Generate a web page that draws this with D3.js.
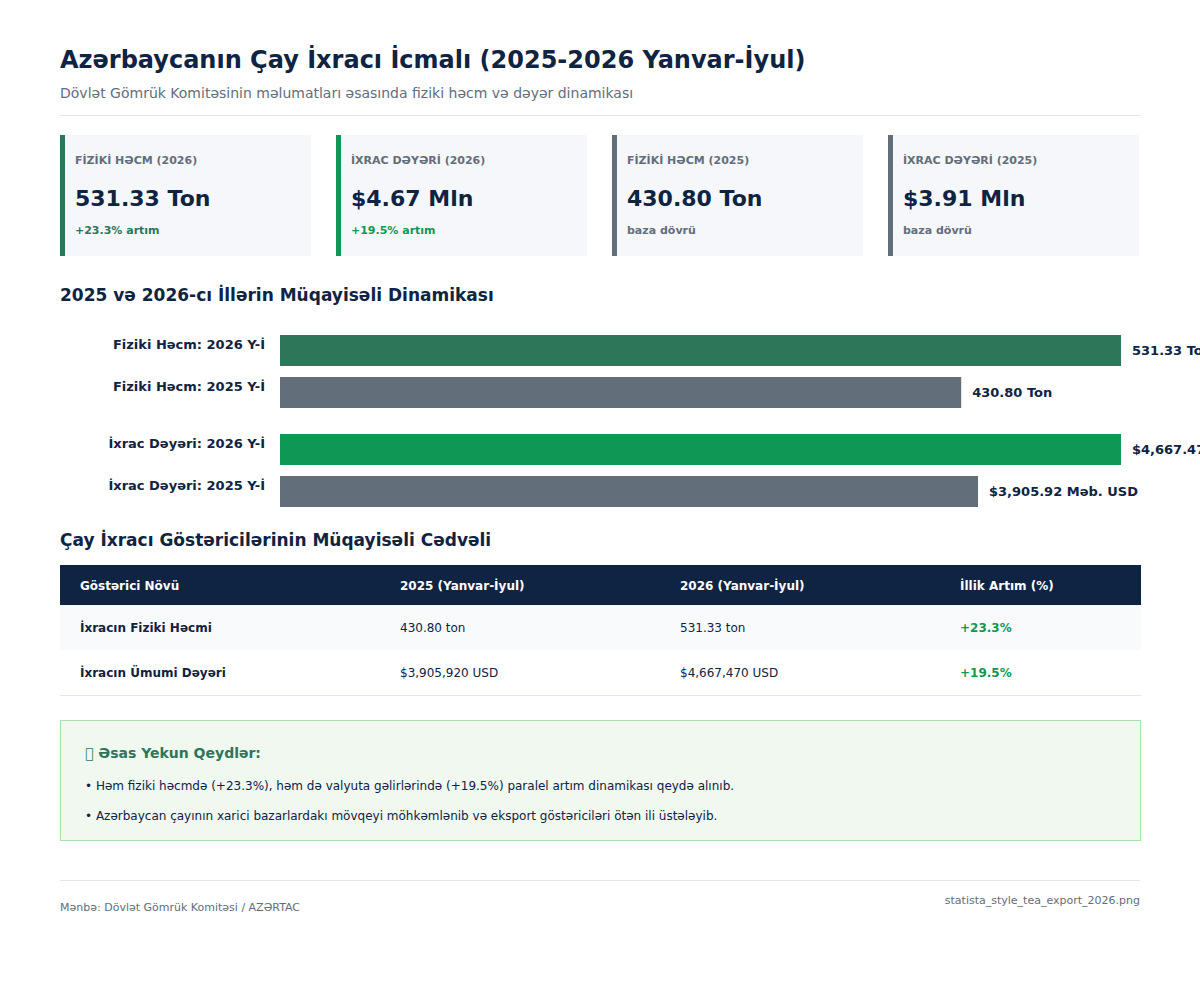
<!DOCTYPE html>
<html lang="az">
<head>
<meta charset="utf-8">
<title>Azərbaycanın Çay İxracı İcmalı</title>
<script src="https://cdn.jsdelivr.net/npm/d3@7/dist/d3.min.js"></script>
<style>
    html, body { margin: 0; padding: 0; background: #fff; overflow: hidden; }
    #chart { position: relative; width: 1200px; height: 1000px; overflow: hidden; font-family: "DejaVu Sans", sans-serif; }
    #chart svg { position: absolute; left: 0; top: 0; display: block; }
    .txt { position: absolute; white-space: nowrap; line-height: normal; }
</style>
</head>
<body>
<div id="chart"></div>
<script>
const NAVY = '#0f2342';
const GREY = '#636e7b';
const TEAL = '#2e7659';
const GREEN = '#0f9855';
const RULE = '#e2e6ea';

// cards
const cardLabels = ['FİZİKİ HƏCM (2026)', 'İXRAC DƏYƏRİ (2026)', 'FİZİKİ HƏCM (2025)', 'İXRAC DƏYƏRİ (2025)'];
const cardValues = ['531.33 Ton', '$4.67 Mln', '430.80 Ton', '$3.91 Mln'];
const cardNotes = ['+23.3% artım', '+19.5% artım', 'baza dövrü', 'baza dövrü'];
const cardColors = [TEAL, GREEN, GREY, GREY];

// bars, lengths are the share of the full track
const barGroups = ['Fiziki Həcm', 'İxrac Dəyəri'];
const barYears = ['2026', '2025'];
const barShares = [[100, 81], [100, 83]];
const barValueLabels = [['531.33 Ton', '430.80 Ton'], ['$4,667.47 Məb. USD', '$3,905.92 Məb. USD']];
const barColors = [[TEAL, GREY], [GREEN, GREY]];

// table
const tableHeader = ['Göstərici Növü', '2025 (Yanvar-İyul)', '2026 (Yanvar-İyul)', 'İllik Artım (%)'];
const tableRows = [
    ['İxracın Fiziki Həcmi', '430.80 ton', '531.33 ton', '+23.3%'],
    ['İxracın Ümumi Dəyəri', '$3,905,920 USD', '$4,667,470 USD', '+19.5%']
];

// notes, the heading icon shows as an empty box in the reference
const noteTitle = '\uE000 Əsas Yekun Qeydlər:';
const noteLines = [
    '• Həm fiziki həcmdə (+23.3%), həm də valyuta gəlirlərində (+19.5%) paralel artım dinamikası qeydə alınıb.',
    '• Azərbaycan çayının xarici bazarlardakı mövqeyi möhkəmlənib və eksport göstəriciləri ötən ili üstələyib.'
];

const chart = d3.select('#chart');
const svg = chart.append('svg')
    .attr('width', 1200)
    .attr('height', 1000);

// y is the baseline
function label(x, y, text, size, color, weight = 'normal', anchor = 'start') {
    const el = chart.append('div')
        .attr('class', 'txt')
        .style('top', `${y - Math.round(size * 0.928)}px`)
        .style('font-size', `${size}px`)
        .style('font-weight', weight)
        .style('color', color)
        .text(text);
    if (anchor === 'end') {
        el.style('right', `${1200 - x}px`);
    } else {
        el.style('left', `${x}px`);
    }
    return el;
}

function hr(y, width = 1080) {
    svg.append('rect').attr('x', 60).attr('y', y).attr('width', width).attr('height', 1).attr('fill', RULE);
}

// header
label(60, 68, 'Azərbaycanın Çay İxracı İcmalı (2025-2026 Yanvar-İyul)', 24, NAVY, 'bold');
label(60, 98, 'Dövlət Gömrük Komitəsinin məlumatları əsasında fiziki həcm və dəyər dinamikası', 14, GREY);
hr(115);

// kpi cards
const cardX = i => 60 + i * 276;
const cards = svg.selectAll('g.card').data(cardLabels).enter().append('g')
    .attr('class', 'card')
    .attr('transform', (d, i) => `translate(${cardX(i)},135)`);
cards.append('rect').attr('width', 251).attr('height', 121).attr('fill', '#f5f7fb');
cards.append('rect').attr('width', 5).attr('height', 121).attr('fill', (d, i) => cardColors[i]);
cardLabels.forEach((d, i) => {
    label(cardX(i) + 15, 164, d, 11, GREY, 'bold');
    label(cardX(i) + 15, 206, cardValues[i], 22, NAVY, 'bold');
    label(cardX(i) + 15, 234, cardNotes[i], 11, i < 2 ? cardColors[i] : GREY, 'bold');
});

// bars
label(60, 301, '2025 və 2026-cı İllərin Müqayisəli Dinamikası', 17, NAVY, 'bold');
const groupY = d3.scaleBand().domain(barGroups).range([335, 507]).paddingInner(26 / 99);
const barY = d3.scaleBand().domain(barYears).range([0, groupY.bandwidth()]).paddingInner(11 / 42);
const barX = d3.scaleLinear().domain([0, 100]).range([280, 1121]);

barGroups.forEach((group, gi) => {
    barYears.forEach((year, yi) => {
        const y = groupY(group) + barY(year);
        svg.append('rect')
            .attr('x', barX(0))
            .attr('y', y)
            .attr('width', barX(barShares[gi][yi]) - barX(0))
            .attr('height', barY.bandwidth())
            .attr('fill', barColors[gi][yi]);
        label(265, y + 14, `${group}: ${year} Y-İ`, 13, NAVY, 'bold', 'end');
        label(barX(barShares[gi][yi]) + 11, y + 20, barValueLabels[gi][yi], 13, NAVY, 'bold');
    });
});

// table
label(60, 546, 'Çay İxracı Göstəricilərinin Müqayisəli Cədvəli', 17, NAVY, 'bold');
const colX = [80, 400, 680, 960];
svg.append('rect').attr('x', 60).attr('y', 565).attr('width', 1081).attr('height', 40).attr('fill', NAVY);
tableHeader.forEach((h, i) => label(colX[i], 590, h, 12, '#fff', 'bold'));
svg.append('rect').attr('x', 60).attr('y', 605).attr('width', 1081).attr('height', 45).attr('fill', '#f9fafc');
tableRows.forEach((row, r) => {
    row.forEach((cell, i) => {
        const color = i === 3 ? GREEN : NAVY;
        label(colX[i], 632 + r * 45, cell, 12, color, i === 0 || i === 3 ? 'bold' : 'normal');
    });
});
hr(695, 1081);

// notes
svg.append('rect')
    .attr('x', 60.5).attr('y', 720.5).attr('width', 1080).attr('height', 120)
    .attr('fill', '#f0f8f0').attr('stroke', '#acdfac');
label(85, 758, noteTitle, 14, TEAL, 'bold');
noteLines.forEach((line, i) => label(85, 790 + i * 30, line, 12, NAVY));

// footer
hr(880);
label(60, 911, 'Mənbə: Dövlət Gömrük Komitəsi / AZƏRTAC', 11, GREY);
label(1140, 904, 'statista_style_tea_export_2026.png', 11, GREY, 'normal', 'end');
</script>
</body>
</html>
